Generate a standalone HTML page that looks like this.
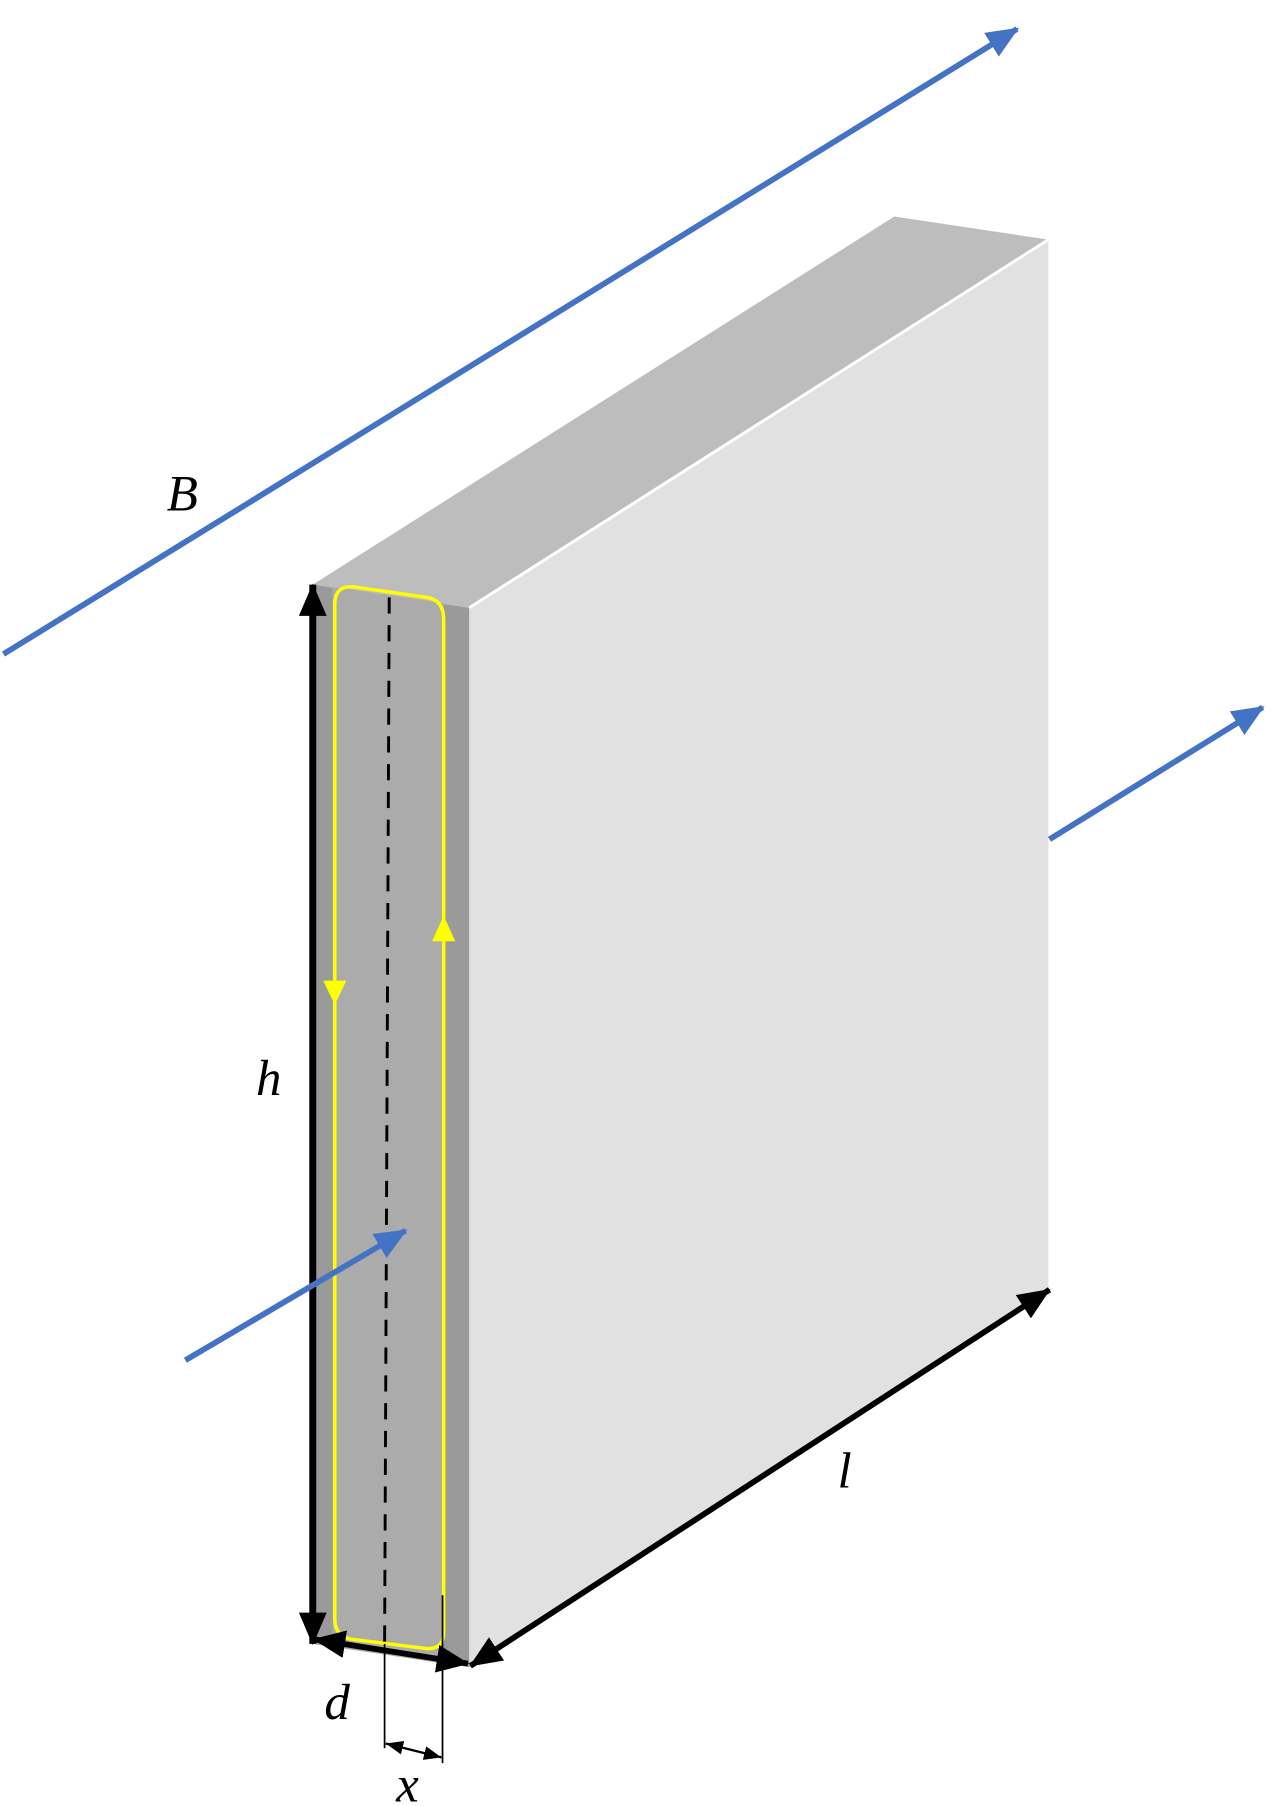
<!DOCTYPE html>
<html><head><meta charset="utf-8"><style>html,body{margin:0;padding:0;background:#fff}svg{display:block}</style></head>
<body>
<svg width="1287" height="1806" viewBox="0 0 1111 1560" preserveAspectRatio="none" xmlns="http://www.w3.org/2000/svg">
<defs>
<marker id="ab" markerUnits="userSpaceOnUse" markerWidth="30" markerHeight="30" viewBox="0 0 30 30" refX="26" refY="15" orient="auto"><path d="M0,3 L28,15 L0,27 Z" fill="#4472c4"/></marker>
<marker id="ak" markerUnits="userSpaceOnUse" markerWidth="30" markerHeight="30" viewBox="0 0 30 30" refX="27" refY="15" orient="auto-start-reverse"><path d="M0,3 L28,15 L0,27 Z" fill="#000"/></marker>
<marker id="aks" markerUnits="userSpaceOnUse" markerWidth="16" markerHeight="16" viewBox="0 0 16 16" refX="15" refY="8" orient="auto-start-reverse"><path d="M0,2 L15,8 L0,14 Z" fill="#000"/></marker>
</defs>
<line x1="3" y1="565" x2="878" y2="25" stroke="#4472c4" stroke-width="5" marker-end="url(#ab)"/>
<polygon points="270,505 772,187 905,207 405,525" fill="#bdbdbd"/>
<polygon points="405,525 905,207 905,1113 405,1440" fill="#e1e1e1"/>
<line x1="405" y1="525" x2="905" y2="207" stroke="#fff" stroke-width="2.5"/>
<polygon points="270,505 405,525 405,1440 270,1420" fill="#9a9a9a"/>
<polygon points="287,507 383,521 383,1437 287,1422" fill="#ababab"/>
<line x1="906" y1="725" x2="1090" y2="611" stroke="#4472c4" stroke-width="5" marker-end="url(#ab)"/>
<path d="M289,860 L289,522 Q289,505 306,507 L368,516 Q383,518 383,535 L383,1410 Q383,1425 368,1424 L304,1416 Q289,1414 289,1398 Z" fill="none" stroke="#ffff00" stroke-width="3"/>
<polygon points="279,847 299,847 289,868" fill="#ffff00"/>
<polygon points="373,813 393,813 383,791" fill="#ffff00"/>
<line x1="336" y1="516" x2="332" y2="1420" stroke="#000" stroke-width="2.5" stroke-dasharray="14,10"/>
<line x1="270" y1="505" x2="270" y2="1420" stroke="#000" stroke-width="6" marker-start="url(#ak)" marker-end="url(#ak)"/>
<line x1="271" y1="1416" x2="404" y2="1437" stroke="#000" stroke-width="5" marker-start="url(#ak)" marker-end="url(#ak)"/>
<line x1="406" y1="1439" x2="906" y2="1114" stroke="#000" stroke-width="5" marker-start="url(#ak)" marker-end="url(#ak)"/>
<line x1="332" y1="1420" x2="332" y2="1510" stroke="#000" stroke-width="1.5"/>
<line x1="382" y1="1378" x2="382" y2="1523" stroke="#000" stroke-width="1.5"/>
<line x1="333" y1="1506" x2="381" y2="1518" stroke="#000" stroke-width="2" marker-start="url(#aks)" marker-end="url(#aks)"/>
<line x1="160" y1="1175" x2="350" y2="1063" stroke="#4472c4" stroke-width="5" marker-end="url(#ab)"/>
<g font-family="'Liberation Serif', serif" font-style="italic" fill="#000" font-size="44">
<text x="144" y="441">B</text>
<text x="221" y="946">h</text>
<text x="723" y="1285">l</text>
<text x="280" y="1485">d</text>
<text x="342" y="1556">x</text>
</g>
</svg>
</body></html>
